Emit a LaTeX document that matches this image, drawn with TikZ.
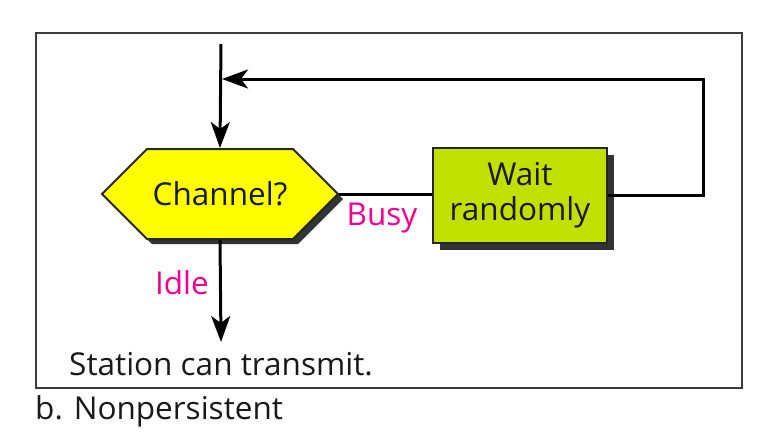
\documentclass[tikz,border=0pt]{standalone}
\usepackage{fontspec}
\setmainfont{Open Sans}
\usetikzlibrary{shapes.symbols,shadows,arrows.meta}
\definecolor{hexfill}{RGB}{255,255,0}
\definecolor{waitfill}{RGB}{192,224,0}
\definecolor{lblpink}{RGB}{236,0,140}
\definecolor{framegray}{RGB}{60,60,60}
\tikzset{
  bigfont/.style={font=\fontsize{31.5}{35}\selectfont},
  conn/.style={line width=3pt, black},
  arr/.style={conn, -{Stealth[length=26pt,width=19pt,inset=7pt]}},
  lbl/.style={text=lblpink, bigfont, inner sep=0pt},
  txt/.style={bigfont, inner sep=0pt, text=black!90},
  hexnode/.style={signal, signal to=west and east, signal pointer angle=90,
    minimum width=236pt, minimum height=90pt, inner sep=0pt, fill=hexfill,
    draw=black!85, line width=2pt, bigfont, text=black!90,
    drop shadow={shadow xshift=5pt, shadow yshift=-5pt, fill=black!80, opacity=1}},
  waitnode/.style={rectangle, minimum width=174pt, minimum height=95pt, inner sep=0pt,
    fill=waitfill, draw=black!85, line width=2pt, align=center, bigfont, text=black!90,
    drop shadow={shadow xshift=7pt, shadow yshift=-7pt, fill=black!80, opacity=1}},
}
\begin{document}
\begin{tikzpicture}[x=1pt,y=-1pt]
\useasboundingbox (0,0) rectangle (761,440);
\draw[line width=2.5pt, framegray] (36,33) rectangle (742,388);
\coordinate (top) at (221,44);
\node[hexnode] (chan) at (220,194) {Channel?};
\node[waitnode] (wait) at (520,195.5) {Wait\\randomly};
\node[txt] (station) at (221,364) {Station can transmit.};
\node[txt, anchor=west] (caption) at (35,411) {b. Nonpersistent};
\node[lbl] (busy) at (382,218) {Busy};
\node[lbl] (idle) at (182,283) {Idle};
\coordinate (fbcorner) at (703,79);
\coordinate (fbend) at (222,79);
\draw[arr] (top) -- (chan.north);
\draw[conn] (chan.east) -- (chan.east -| wait.west);
\draw[arr] (wait.east) -| (fbcorner) -- (fbend);
\draw[arr] (chan.south) -- (221,342);
\end{tikzpicture}
\end{document}
